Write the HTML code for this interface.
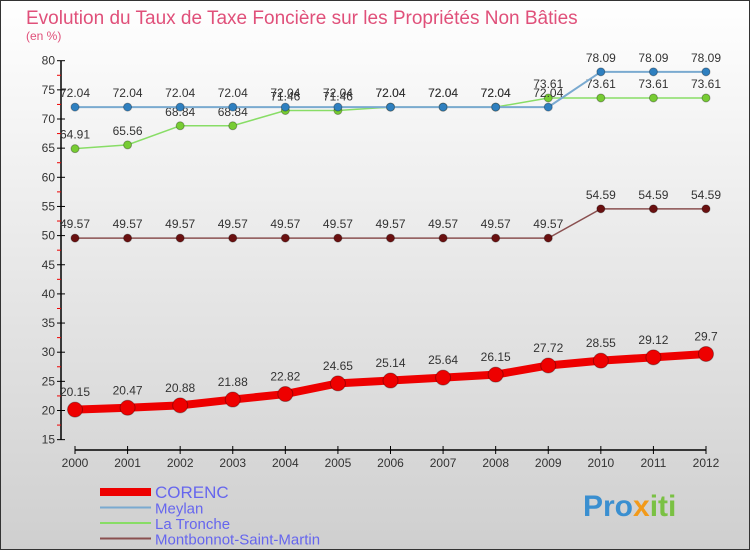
<!DOCTYPE html>
<html><head><meta charset="utf-8"><style>
body{margin:0;width:750px;height:550px;overflow:hidden;font-family:"Liberation Sans",sans-serif}
</style></head><body>
<svg width="750" height="550" xmlns="http://www.w3.org/2000/svg">
<defs><linearGradient id="bg" x1="0" y1="0" x2="0" y2="1"><stop offset="0" stop-color="#ffffff"/><stop offset="1" stop-color="#cfcfcf"/></linearGradient></defs>
<rect x="0.5" y="0.5" width="749" height="549" fill="url(#bg)" stroke="#333"/>
<text x="26" y="24" font-size="19" fill="#e0507a">Evolution du Taux de Taxe Foncière sur les Propriétés Non Bâties</text>
<text x="26" y="40" font-size="12" fill="#e0507a">(en %)</text>
<g id="axes"></g><g id="series"></g><g id="legend"></g>
<text x="583" y="516" font-size="30" font-weight="bold" fill="#3a8fd0">Pro<tspan fill="#f29a1a">x</tspan><tspan fill="#7ac143">iti</tspan></text>
</svg>
<script>
const years=[2000,2001,2002,2003,2004,2005,2006,2007,2008,2009,2010,2011,2012];
const yTicks=[15,20,25,30,35,40,45,50,55,60,65,70,75,80];
const corenc=[20.15,20.47,20.88,21.88,22.82,24.65,25.14,25.64,26.15,27.72,28.55,29.12,29.7];
const meylan=[72.04,72.04,72.04,72.04,72.04,72.04,72.04,72.04,72.04,72.04,78.09,78.09,78.09];
const tronche=[64.91,65.56,68.84,68.84,71.46,71.46,72.04,72.04,72.04,73.61,73.61,73.61,73.61];
const montbonnot=[49.57,49.57,49.57,49.57,49.57,49.57,49.57,49.57,49.57,49.57,54.59,54.59,54.59];
const seriesNames=["CORENC","Meylan","La Tronche","Montbonnot-Saint-Martin"];
const NS="http://www.w3.org/2000/svg";
const X=i=>75+i*(706-75)/(years.length-1);
const Y=v=>60.7+(80-v)*5.83;
function mk(p,t,a){const e=document.createElementNS(NS,t);for(const k in a)e.setAttribute(k,a[k]);p.appendChild(e);return e;}
const ax=document.getElementById('axes');
let l=mk(ax,'line',{x1:61,y1:Y(80),x2:61,y2:Y(15),stroke:'#000','stroke-width':1.5});


l=mk(ax,'line',{x1:X(0),y1:450,x2:X(12),y2:450,stroke:'#000','stroke-width':1.5});


yTicks.forEach(v=>{
 mk(ax,'line',{x1:57,y1:Y(v),x2:65,y2:Y(v),stroke:'#000'});
 if(v<80)mk(ax,'line',{x1:57,y1:Y(v+2.5),x2:61,y2:Y(v+2.5),stroke:'#e00'});
 const t=mk(ax,'text',{x:55,y:Y(v)+4,'font-size':12,'text-anchor':'end',fill:'#333'});
 t.textContent=v;
 
 
});
years.forEach((yr,i)=>{
 mk(ax,'line',{x1:X(i),y1:446,x2:X(i),y2:454,stroke:'#000'});
 const t=mk(ax,'text',{x:X(i),y:467,'font-size':12,'text-anchor':'middle',fill:'#333'});
 t.textContent=yr;
 
 
});
const sg=document.getElementById('series');
function draw(data,color,dot,w,r,name){
 const g=mk(sg,'g',{});
 
 
 mk(g,'polyline',{points:data.map((v,i)=>X(i)+','+Y(v)).join(' '),fill:'none',stroke:color,'stroke-width':w});
 data.forEach((v,i)=>{
  const c=mk(g,'circle',{cx:X(i),cy:Y(v),r:r,fill:dot,stroke:'rgba(0,0,0,0.3)'});
  
  
  const t=mk(g,'text',{x:X(i),y:Y(v)-r-6,'font-size':12,'text-anchor':'middle',fill:'#333'});
  t.textContent=v;
  
  
 });
}
draw(montbonnot,'#8a5050','#6a1010',1.5,4,'series-montbonnot');
draw(tronche,'#88dd66','#77cc33',1.5,4,'series-la-tronche');
draw(meylan,'#7aaad0','#2f80c0',2,4,'series-meylan');
draw(corenc,'#ee0000','#ee0000',8,7.5,'series-corenc');
const lg=document.getElementById('legend');
const lc=['#ee0000','#7aaad0','#88dd66','#8a5050'],lw=[8,2,2,2];
seriesNames.forEach((n,i)=>{
 const y=492+i*15.5;
 const g=mk(lg,'g',{});
 
 
 mk(g,'line',{x1:100,y1:y,x2:151,y2:y,stroke:lc[i],'stroke-width':lw[i]});
 const t=mk(g,'text',{x:155,y:y+6,'font-size':i==0?17:15,fill:'#6666ee'});
 t.textContent=n;
});
</script>
</body></html>
